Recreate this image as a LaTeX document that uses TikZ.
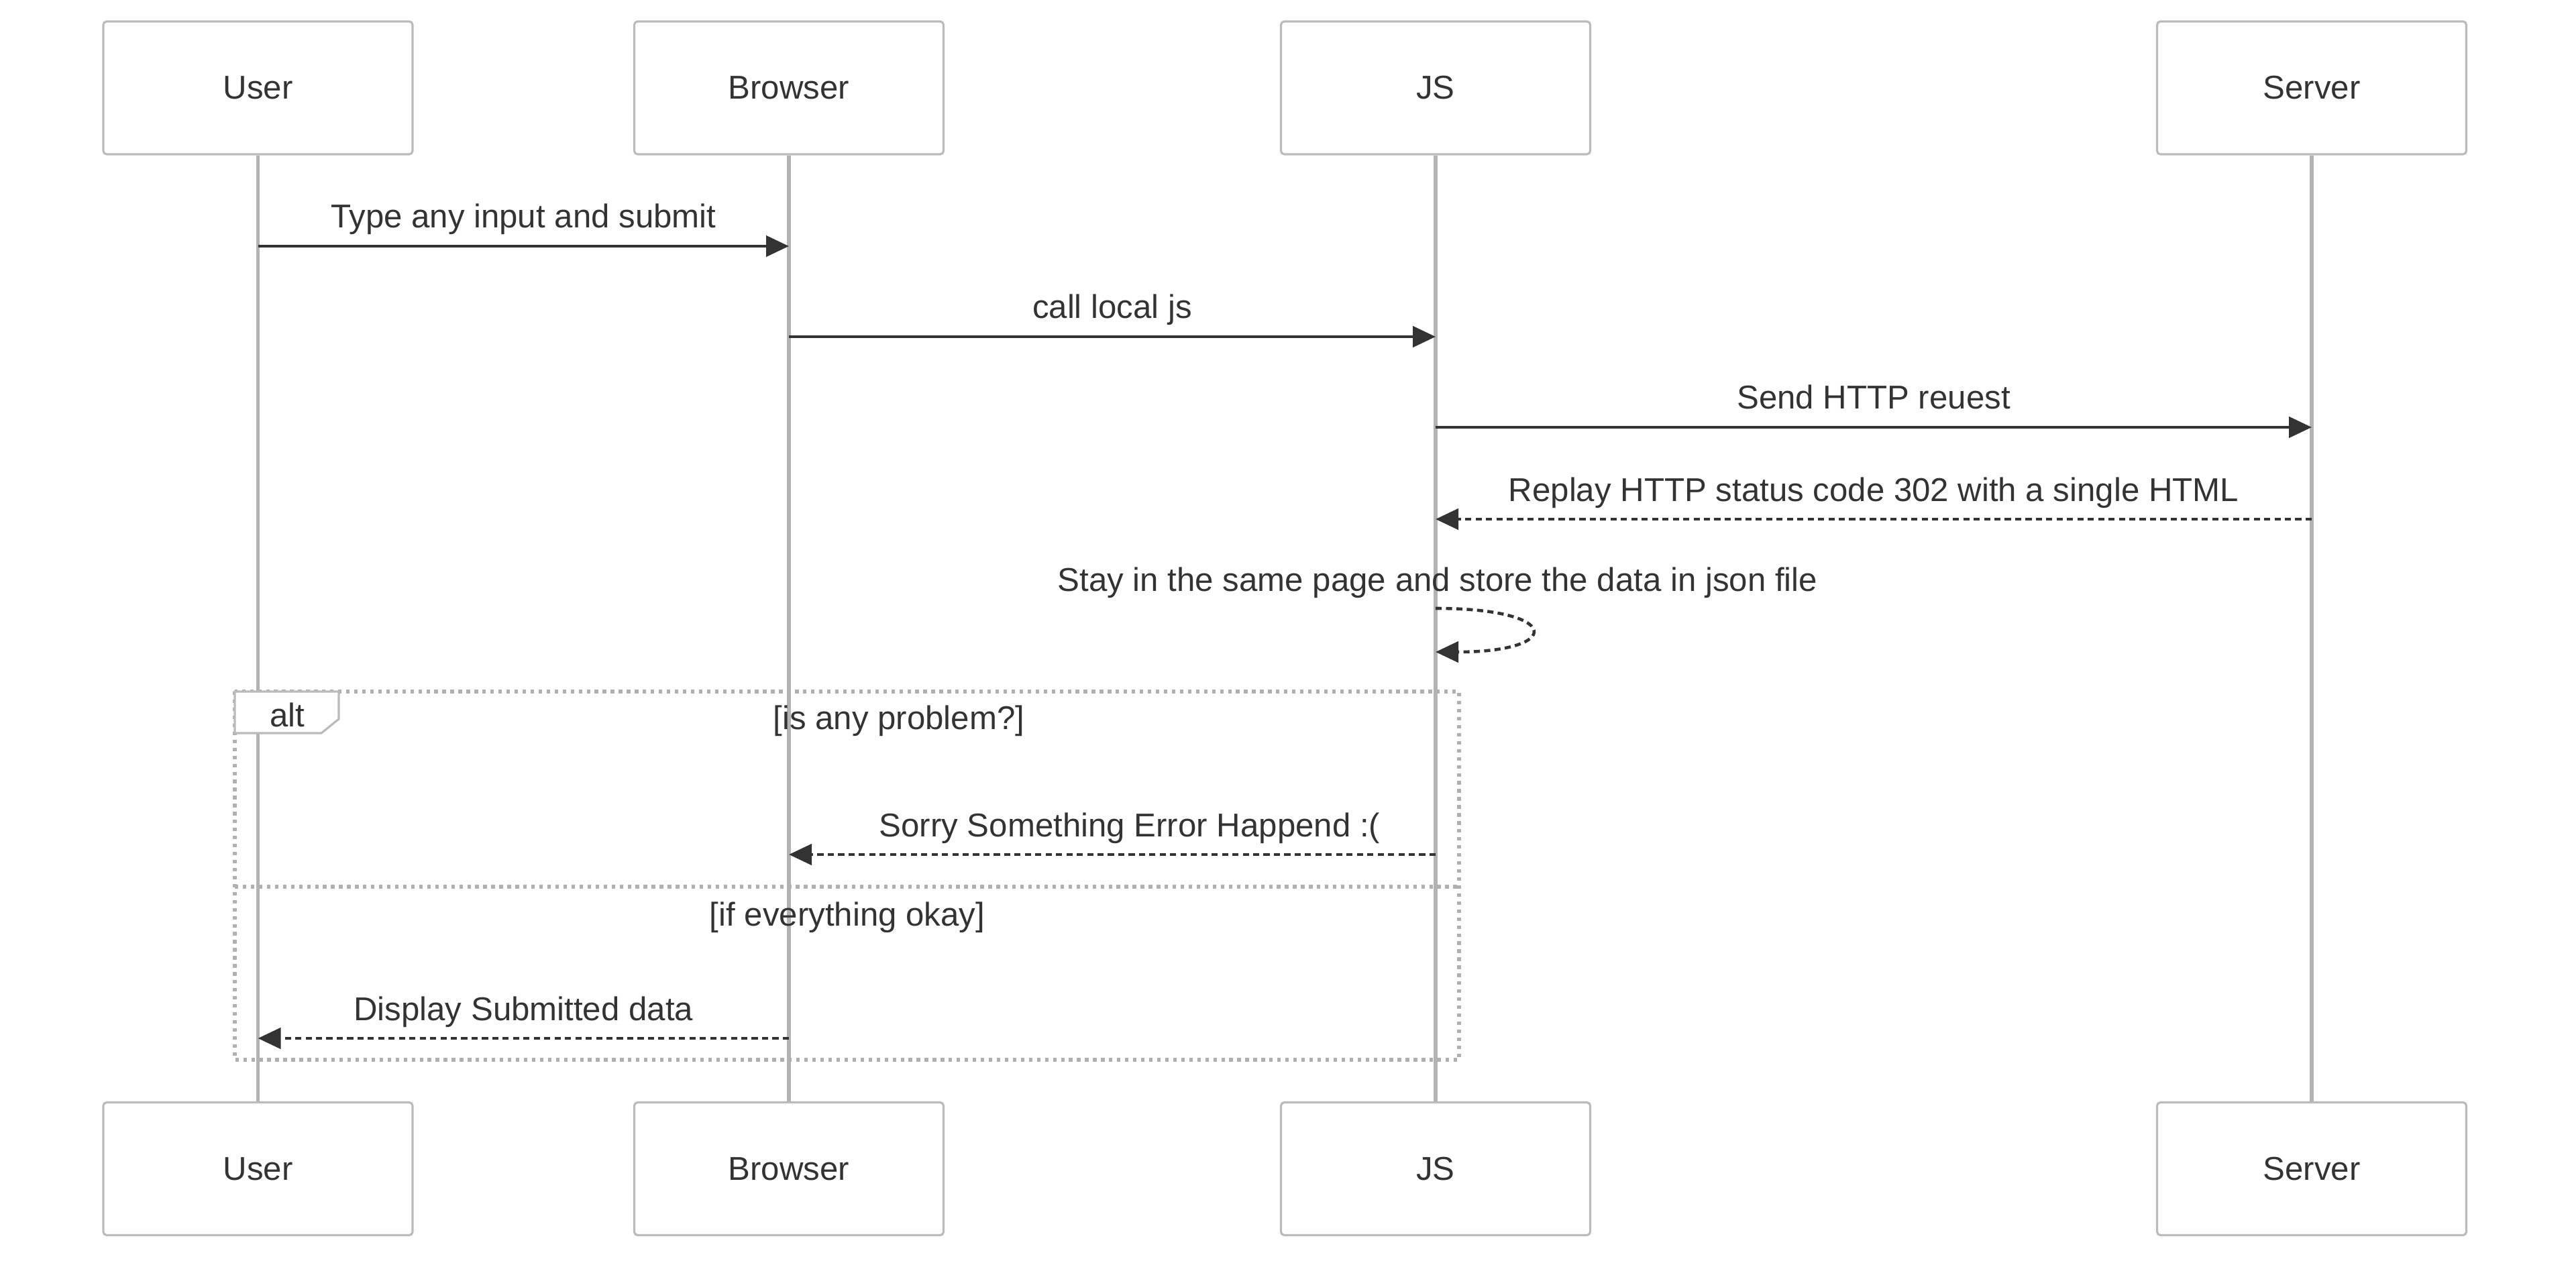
\documentclass[tikz,border=0pt]{standalone}
\usepackage{fontspec}
\setmainfont{Liberation Sans}
\usepackage{tikz}
\usetikzlibrary{arrows.meta}
\usetikzlibrary{shapes,positioning,calc}

\definecolor{ink}{HTML}{333333}
\definecolor{lifegray}{HTML}{B3B3B3}
\definecolor{boxgray}{HTML}{BBBBBB}
\definecolor{dotgray}{HTML}{B0B0B0}

\tikzset{
  actor/.style={draw=boxgray, line width=0.9pt, rounded corners=0.05cm, fill=white,
    minimum width=4.61cm, minimum height=1.98cm, text=ink, font=\fontsize{14}{17}\selectfont},
  lifeline/.style={draw=lifegray, line width=1.7pt},
  msg/.style={draw=ink, line width=1.3pt, -{Triangle[length=0.34cm,width=0.31cm]}},
  reply/.style={msg, dash pattern=on 2.6pt off 1.8pt},
  lbl/.style={anchor=base, yshift=0.27cm, text=ink, font=\fontsize{14}{17}\selectfont},
  altbox/.style={draw=dotgray, line width=1.5pt, dash pattern=on 1.5pt off 1.9pt},
  alttext/.style={anchor=base, text=ink, font=\fontsize{14}{17}\selectfont}
}

\begin{document}
\begin{tikzpicture} [scale = 1]
     \useasboundingbox (0,0) rectangle (38.4,-18.8);

     % participants, top and bottom
     \node[actor] (user) at (3.845,-1.31) {User};
     \node[actor] (browser) at (11.76,-1.31) {Browser};
     \node[actor] (js) at (21.40,-1.31) {JS};
     \node[actor] (server) at (34.46,-1.31) {Server};
     \node[actor] (userB) at (3.845,-17.425) {User};
     \node[actor] (browserB) at (11.76,-17.425) {Browser};
     \node[actor] (jsB) at (21.40,-17.425) {JS};
     \node[actor] (serverB) at (34.46,-17.425) {Server};

     \draw [lifeline] (user) -- (userB);
     \draw [lifeline] (browser) -- (browserB);
     \draw [lifeline] (js) -- (jsB);
     \draw [lifeline] (server) -- (serverB);

     % alt frame
     \draw [altbox] (3.50,-10.31) rectangle (21.75,-15.80);
     \draw [altbox] (3.50,-13.22) -- (21.75,-13.22);
     \draw [draw=boxgray, line width=0.9pt, fill=white] (3.50,-10.31) -- (5.05,-10.31) -- (5.05,-10.72) -- (4.79,-10.93) -- (3.50,-10.93) -- cycle;
     \node[alttext] (alt) at (4.28,-10.83) {alt};
     \node[alttext] (cond1) at (13.40,-10.87) {[is any problem?]};
     \node[alttext] (cond2) at (12.63,-13.80) {[if everything okay]};

     % messages
     \coordinate (m1a) at (user |- 0,-3.67);
     \coordinate (m1b) at (browser |- 0,-3.67);
     \coordinate (m2a) at (browser |- 0,-5.02);
     \coordinate (m2b) at (js |- 0,-5.02);
     \coordinate (m3a) at (js |- 0,-6.37);
     \coordinate (m3b) at (server |- 0,-6.37);
     \coordinate (m4a) at (server |- 0,-7.74);
     \coordinate (m4b) at (js |- 0,-7.74);
     \coordinate (m5a) at (js |- 0,-9.07);
     \coordinate (m5b) at (js |- 0,-9.72);
     \coordinate (m6a) at (js |- 0,-12.74);
     \coordinate (m6b) at (browser |- 0,-12.74);
     \coordinate (m7a) at (browser |- 0,-15.48);
     \coordinate (m7b) at (user |- 0,-15.48);

     \draw [msg] (m1a) -- node[lbl]{Type any input and submit} (m1b);
     \draw [msg] (m2a) -- node[lbl]{call local js} (m2b);
     \draw [msg] (m3a) -- node[lbl]{Send HTTP reuest} (m3b);
     \draw [reply] (m4a) -- node[lbl]{Replay HTTP status code 302 with a single HTML} (m4b);
     \draw [reply] (m5a) .. controls (23.30,-9.07) and (23.30,-9.72) .. (m5b);
     \node[alttext] (m5lbl) at (21.43,-8.81) {Stay in the same page and store the data in json file};
     \draw [reply] (m6a) -- node[lbl, xshift=0.26cm]{Sorry Something Error Happend :(} (m6b);
     \draw [reply] (m7a) -- node[lbl]{Display Submitted data} (m7b);
\end{tikzpicture}
\end{document}
